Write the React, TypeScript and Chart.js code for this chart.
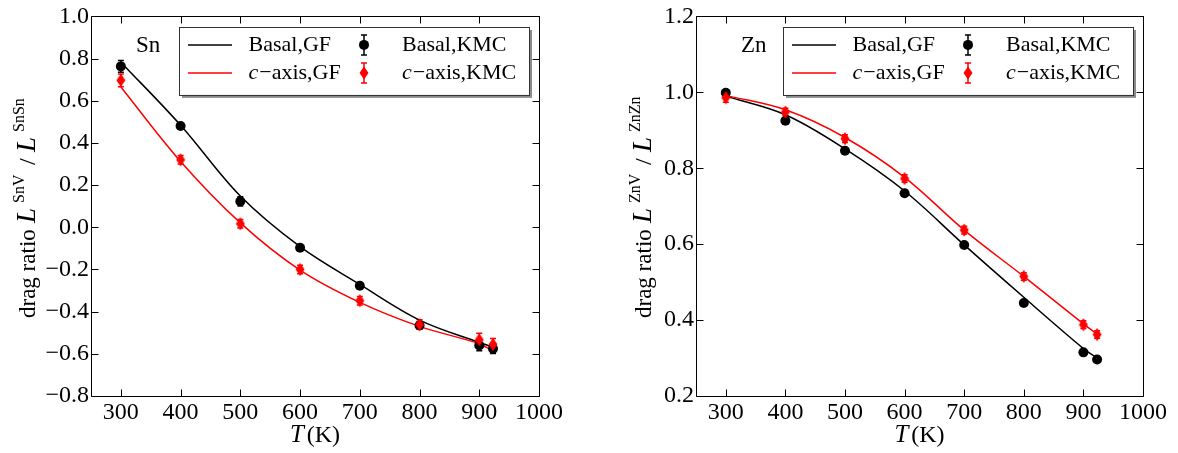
import React, { useEffect, useRef } from 'react';
import { Chart, registerables } from 'chart.js';

Chart.register(...registerables);

// ---------------- data ----------------
const temps = [300, 400, 500, 600, 700, 800, 900, 923];
const xTickValues = [250, 300, 400, 500, 600, 700, 800, 900, 1000];

const snYTicks = [-0.8, -0.6, -0.4, -0.2, 0.0, 0.2, 0.4, 0.6, 0.8, 1.0];
const snBasalGF = [0.783, 0.484, 0.148, -0.092, -0.271, -0.44, -0.546, -0.568];
const snCaxisGF = [0.665, 0.312, 0.021, -0.203, -0.356, -0.47, -0.552, -0.587];
const snBasalKMC = [0.763, 0.48, 0.123, -0.097, -0.277, -0.466, -0.56, -0.576];
const snBasalErr = [0.028, 0.015, 0.022, 0.012, 0.012, 0.018, 0.025, 0.022];
const snCaxisKMC = [0.697, 0.32, 0.017, -0.2, -0.348, -0.461, -0.533, -0.555];
const snCaxisErr = [0.03, 0.02, 0.02, 0.02, 0.02, 0.022, 0.03, 0.028];

const znYTicks = [0.2, 0.4, 0.6, 0.8, 1.0, 1.2];
const znBasalGF = [0.99, 0.941, 0.851, 0.74, 0.598, 0.46, 0.325, 0.3];
const znCaxisGF = [0.992, 0.954, 0.881, 0.776, 0.637, 0.515, 0.39, 0.363];
const znBasalKMC = [0.999, 0.925, 0.846, 0.734, 0.598, 0.445, 0.315, 0.296];
const znBasalErr = [0.005, 0.005, 0.005, 0.005, 0.005, 0.005, 0.005, 0.005];
const znCaxisKMC = [0.986, 0.948, 0.878, 0.773, 0.637, 0.515, 0.388, 0.362];
const znCaxisErr = [0.012, 0.01, 0.01, 0.01, 0.01, 0.01, 0.01, 0.01];

const legendLabels = ['Basal,GF', 'Basal,KMC', '\u2212axis,GF', '\u2212axis,KMC'];

// ---------------- styling ----------------
const FAMILY = "'Liberation Serif', 'DejaVu Serif', serif";
const BLACK = '#000000';
const RED = '#ff0000';

Chart.defaults.font.family = FAMILY;
Chart.defaults.color = BLACK;

type Spec = {
  elem: string;
  yMin: number;
  yMax: number;
  yTicks: number[];
  basalGF: number[];
  caxisGF: number[];
  basalKMC: number[];
  basalErr: number[];
  caxisKMC: number[];
  caxisErr: number[];
  yAxisWidth: number;
  rightPad: number;
  titleBaseX: number;
  canvasLeft: number;
};

const specs: Spec[] = [
  {
    elem: 'Sn', yMin: -0.8, yMax: 1.0, yTicks: snYTicks,
    basalGF: snBasalGF, caxisGF: snCaxisGF, basalKMC: snBasalKMC, basalErr: snBasalErr,
    caxisKMC: snCaxisKMC, caxisErr: snCaxisErr,
    yAxisWidth: 91, rightPad: 50, titleBaseX: 35, canvasLeft: 0,
  },
  {
    elem: 'Zn', yMin: 0.2, yMax: 1.2, yTicks: znYTicks,
    basalGF: znBasalGF, caxisGF: znCaxisGF, basalKMC: znBasalKMC, basalErr: znBasalErr,
    caxisKMC: znCaxisKMC, caxisErr: znCaxisErr,
    yAxisWidth: 107, rightPad: 35, titleBaseX: 62, canvasLeft: 589,
  },
];

function makeDiamond(color: string): HTMLCanvasElement {
  const c = document.createElement('canvas');
  c.width = 10;
  c.height = 14;
  const g = c.getContext('2d')!;
  g.fillStyle = color;
  g.beginPath();
  g.moveTo(5, 0.5);
  g.lineTo(9.5, 7);
  g.lineTo(5, 13.5);
  g.lineTo(0.5, 7);
  g.closePath();
  g.fill();
  return c;
}

function fmtTick(v: number): string {
  return v.toFixed(1).replace('-', '\u2212');
}

function drawErrBar(ctx: CanvasRenderingContext2D, x: number, y1: number, y2: number, color: string) {
  ctx.save();
  ctx.strokeStyle = color;
  ctx.lineWidth = 1.5;
  ctx.beginPath();
  ctx.moveTo(x, y1);
  ctx.lineTo(x, y2);
  ctx.moveTo(x - 3, y1);
  ctx.lineTo(x + 3, y1);
  ctx.moveTo(x - 3, y2);
  ctx.lineTo(x + 3, y2);
  ctx.stroke();
  ctx.restore();
}

function makePlugins(spec: Spec, diamond: HTMLCanvasElement) {
  const errorBars = {
    id: 'errorBars',
    beforeDatasetsDraw(chart: any) {
      const ctx = chart.ctx as CanvasRenderingContext2D;
      const xs = chart.scales.x;
      const ys = chart.scales.y;
      const sets: [number[], number[], string][] = [
        [spec.basalKMC, spec.basalErr, BLACK],
        [spec.caxisKMC, spec.caxisErr, RED],
      ];
      sets.forEach(([vals, errs, col]) => {
        vals.forEach((v, i) => {
          const px = xs.getPixelForValue(temps[i]);
          drawErrBar(ctx, px, ys.getPixelForValue(v + errs[i]), ys.getPixelForValue(v - errs[i]), col);
        });
      });
    },
  };

  const frame = {
    id: 'frame',
    afterDraw(chart: any) {
      const ctx = chart.ctx as CanvasRenderingContext2D;
      const ca = chart.chartArea;
      const xs = chart.scales.x;
      const ys = chart.scales.y;
      const L = Math.round(ca.left) + 0.5;
      const R = Math.round(ca.right) + 0.5;
      const T = Math.round(ca.top) + 0.5;
      const B = Math.round(ca.bottom) + 0.5;
      ctx.save();
      ctx.strokeStyle = BLACK;
      ctx.lineWidth = 1;
      ctx.beginPath();
      ctx.rect(L, T, R - L, B - T);
      const tl = 7;
      xTickValues.forEach((v) => {
        const px = Math.round(xs.getPixelForValue(v)) + 0.5;
        ctx.moveTo(px, B);
        ctx.lineTo(px, B - tl);
        ctx.moveTo(px, T);
        ctx.lineTo(px, T + tl);
      });
      spec.yTicks.forEach((v) => {
        const py = Math.round(ys.getPixelForValue(v)) + 0.5;
        ctx.moveTo(L, py);
        ctx.lineTo(L + tl, py);
        ctx.moveTo(R, py);
        ctx.lineTo(R - tl, py);
      });
      ctx.stroke();

      // element label
      ctx.fillStyle = BLACK;
      ctx.font = `23px ${FAMILY}`;
      ctx.textBaseline = 'middle';
      ctx.textAlign = 'left';
      ctx.fillText(spec.elem, ca.left + 45, ca.top + 30);

      // legend
      const w = 350;
      const h = 68;
      const x0 = ca.right - 10 - w;
      const y0 = ca.top + 10.5;
      ctx.fillStyle = 'rgba(0,0,0,0.45)';
      ctx.fillRect(x0 + 3, y0 + 3, w, h);
      ctx.fillStyle = '#ffffff';
      ctx.fillRect(x0, y0, w, h);
      ctx.strokeStyle = '#333333';
      ctx.lineWidth = 1;
      ctx.strokeRect(Math.round(x0) + 0.5, Math.round(y0) + 0.5, w, h);

      const rows = [y0 + 18, y0 + 46];
      const cols = [BLACK, RED];
      ctx.font = `22px ${FAMILY}`;
      ctx.textBaseline = 'middle';
      rows.forEach((ry, r) => {
        ctx.strokeStyle = cols[r];
        ctx.lineWidth = 1.5;
        ctx.beginPath();
        ctx.moveTo(x0 + 9, ry);
        ctx.lineTo(x0 + 53, ry);
        ctx.stroke();
        const mx = x0 + 185;
        drawErrBar(ctx, mx, ry - 10, ry + 10, cols[r]);
        if (r === 0) {
          ctx.fillStyle = BLACK;
          ctx.beginPath();
          ctx.arc(mx, ry, 5, 0, Math.PI * 2);
          ctx.fill();
        } else {
          ctx.drawImage(diamond, mx - diamond.width / 2, ry - diamond.height / 2);
        }
        ctx.fillStyle = BLACK;
        const t1 = legendLabels[r * 2];
        const t2 = legendLabels[r * 2 + 1];
        if (r === 0) {
          ctx.font = `22px ${FAMILY}`;
          ctx.fillText(t1, x0 + 69.5, ry);
          ctx.fillText(t2, x0 + 223, ry);
        } else {
          [[t1, x0 + 69.5], [t2, x0 + 223]].forEach(([t, tx]) => {
            ctx.font = `italic 22px ${FAMILY}`;
            ctx.fillText('c', tx as number, ry);
            const cw = ctx.measureText('c').width;
            ctx.font = `22px ${FAMILY}`;
            ctx.fillText(t as string, (tx as number) + cw + 1, ry);
          });
        }
      });

      // x axis title
      ctx.fillStyle = BLACK;
      ctx.textBaseline = 'alphabetic';
      ctx.font = `italic 25px ${FAMILY}`;
      const tw = ctx.measureText('T').width;
      ctx.font = `24px ${FAMILY}`;
      const kw = ctx.measureText('(K)').width;
      const total = tw + 3 + kw;
      const cx = (ca.left + ca.right) / 2;
      ctx.font = `italic 25px ${FAMILY}`;
      ctx.fillText('T', cx - total / 2, 442);
      ctx.font = `24px ${FAMILY}`;
      ctx.fillText('(K)', cx - total / 2 + tw + 3, 442);

      // y axis title (rotated)
      ctx.save();
      ctx.translate(spec.titleBaseX, 318);
      ctx.rotate(-Math.PI / 2);
      ctx.textBaseline = 'alphabetic';
      ctx.textAlign = 'left';
      const segs: [string, string, number, number][] = [
        ['drag ratio', `23px ${FAMILY}`, 0, 0],
        ['L', `italic 27px ${FAMILY}`, 95, 0],
        [spec.elem + 'V', `16px ${FAMILY}`, 115, -11],
        ['/', `24px ${FAMILY}`, 153, 0],
        ['L', `italic 27px ${FAMILY}`, 166, 0],
        [spec.elem + spec.elem, `16px ${FAMILY}`, 186, -11],
      ];
      segs.forEach(([t, f, u, v]) => {
        ctx.font = f;
        ctx.fillText(t, u, v);
      });
      ctx.restore();
      ctx.restore();
    },
  };
  return [errorBars, frame];
}

function buildConfig(spec: Spec, diamond: HTMLCanvasElement): any {
  const pts = (vals: number[]) => vals.map((v, i) => ({ x: temps[i], y: v }));
  const tickFont = { family: FAMILY, size: 24 };
  return {
    type: 'line',
    data: {
      datasets: [
        {
          label: 'c-axis,KMC', data: pts(spec.caxisKMC), showLine: false,
          pointStyle: diamond, pointRadius: 6, backgroundColor: RED, borderColor: RED, order: 0,
        },
        {
          label: 'Basal,KMC', data: pts(spec.basalKMC), showLine: false,
          pointStyle: 'circle', pointRadius: 5, pointBorderWidth: 0,
          backgroundColor: BLACK, borderColor: BLACK, order: 1,
        },
        {
          label: 'c-axis,GF', data: pts(spec.caxisGF), borderColor: RED, borderWidth: 1.5,
          pointRadius: 0, tension: 0.35, fill: false, order: 2,
        },
        {
          label: 'Basal,GF', data: pts(spec.basalGF), borderColor: BLACK, borderWidth: 1.5,
          pointRadius: 0, tension: 0.35, fill: false, order: 3,
        },
      ],
    },
    options: {
      animation: false,
      responsive: false,
      devicePixelRatio: 1,
      layout: { padding: { left: 0, right: spec.rightPad, top: 14, bottom: 0 } },
      plugins: { legend: { display: false }, tooltip: { enabled: false } },
      scales: {
        x: {
          type: 'linear', min: 250, max: 1000,
          afterBuildTicks: (s: any) => { s.ticks = xTickValues.map((v) => ({ value: v })); },
          afterFit: (s: any) => { s.height = 57; },
          grid: { display: false, drawTicks: false },
          border: { display: false },
          ticks: {
            font: tickFont, color: BLACK, padding: 2, maxRotation: 0, autoSkip: false,
            callback: (v: number) => (v === 250 ? '' : String(v)),
          },
        },
        y: {
          type: 'linear', min: spec.yMin, max: spec.yMax,
          afterBuildTicks: (s: any) => { s.ticks = spec.yTicks.map((v) => ({ value: v })); },
          afterFit: (s: any) => { s.width = spec.yAxisWidth; },
          grid: { display: false, drawTicks: false },
          border: { display: false },
          ticks: {
            font: tickFont, color: BLACK, padding: 2, autoSkip: false,
            callback: (v: number) => fmtTick(v),
          },
        },
      },
    },
    plugins: makePlugins(spec, diamond),
  };
}

function Panel({ spec }: { spec: Spec }) {
  const ref = useRef<HTMLCanvasElement | null>(null);
  useEffect(() => {
    if (!ref.current) return;
    const diamond = makeDiamond(RED);
    const chart = new Chart(ref.current, buildConfig(spec, diamond));
    return () => chart.destroy();
  }, [spec]);
  return (
    <canvas
      ref={ref}
      width={589}
      height={453}
      style={{ position: 'absolute', left: spec.canvasLeft, top: 0, width: 589, height: 453 }}
    />
  );
}

export default function App() {
  return (
    <div style={{ position: 'absolute', left: 0, top: 0, width: 1178, height: 453, background: '#ffffff', overflow: 'hidden' }}>
      {specs.map((s) => (
        <Panel key={s.elem} spec={s} />
      ))}
    </div>
  );
}
